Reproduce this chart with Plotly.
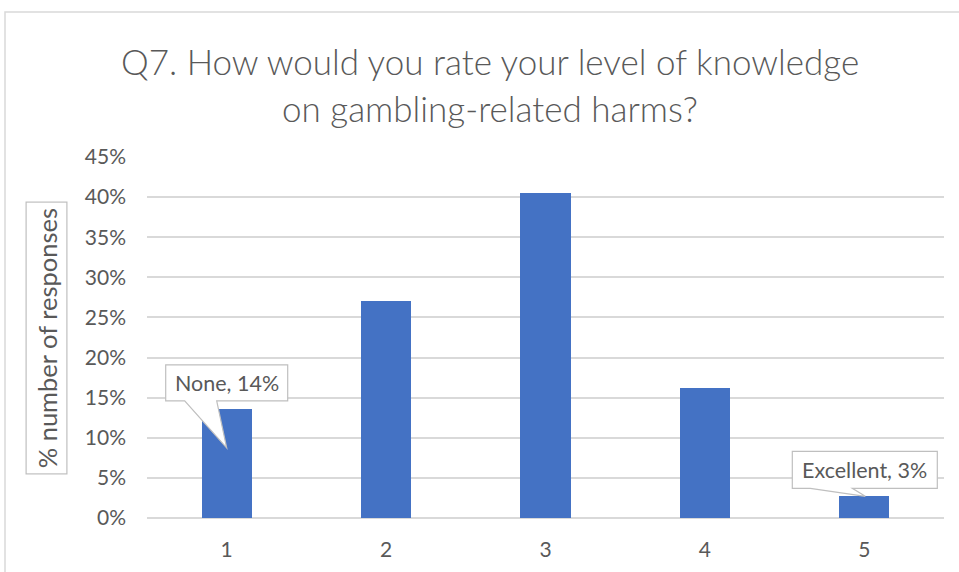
import plotly.graph_objects as go

# Survey answers: knowledge rating scale and share of responses (%)
ratings = [1, 2, 3, 4, 5]
rating_labels = ["1", "2", "3", "4", "5"]
share_pct = [13.6, 27.0, 40.5, 16.2, 2.7]
y_ticks = [0, 5, 10, 15, 20, 25, 30, 35, 40, 45]
y_tick_labels = [f"{v}%" for v in y_ticks]
callout_names = {1: "None", 5: "Excellent"}
title_lines = ["Q7. How would you rate your level of knowledge",
               "on gambling-related harms?"]

FONT = "Lato"
GREY_TEXT = "#595959"
GRID = "#d9d9d9"
BAR = "#4472c4"
CALLOUT_LINE = "#bfbfbf"

W, H = 959, 572
ML, MR, MT, MB = 147, 15, 157, 54
PW, PH = W - ML - MR, H - MT - MB

def px_to_paper_x(px):
    return (px - ML) / PW

def px_to_paper_y(py):
    return (H - MB - py) / PH

fig = go.Figure()
fig.add_trace(go.Bar(
    x=ratings, y=share_pct, width=0.314,
    marker=dict(color=BAR, line=dict(width=0)),
    hoverinfo="skip",
))

shapes = []
annotations = []

# Outer chart-area frame
shapes.append(dict(
    type="rect", xref="paper", yref="paper",
    x0=px_to_paper_x(5), x1=px_to_paper_x(W + 20),
    y0=px_to_paper_y(H + 20), y1=px_to_paper_y(12),
    line=dict(color=GRID, width=1.5), fillcolor="rgba(0,0,0,0)", layer="below",
))

# Callout geometry in pixels relative to the top of each bar:
# (box left, box right, box top, box bottom, pointer base left, pointer base right, tip x, tip y)
callout_geom = {
    1: (-61, 61, 44, 8, -42, -10, 0, -39),
    5: (-72, 73, 45, 8, -54, -12, 1, 0),
}
for r, name in callout_names.items():
    v = share_pct[ratings.index(r)]
    bl, br, bt, bb, pl, pr, tx, ty = callout_geom[r]
    path = (f"M{bl},{bt} L{br},{bt} L{br},{bb} L{pr},{bb} L{tx},{ty} "
            f"L{pl},{bb} L{bl},{bb} Z")
    shapes.append(dict(
        type="path", xref="x", yref="y",
        xsizemode="pixel", ysizemode="pixel",
        xanchor=r, yanchor=v, path=path,
        fillcolor="white", line=dict(color=CALLOUT_LINE, width=1.2),
        layer="above",
    ))
    annotations.append(dict(
        x=r, y=v, xref="x", yref="y",
        xshift=(bl + br) / 2, yshift=(bt + bb) / 2,
        text=f"{name}, {round(v):.0f}%", showarrow=False,
        font=dict(family=FONT, size=21.5, color=GREY_TEXT),
        xanchor="center", yanchor="middle",
    ))

# Y axis title in a bordered box
annotations.append(dict(
    x=px_to_paper_x(46), y=px_to_paper_y(338.5), xref="paper", yref="paper",
    text="% number of responses", textangle=-90, showarrow=False,
    font=dict(family=FONT, size=25.5, color=GREY_TEXT),
    bordercolor=CALLOUT_LINE, borderwidth=1.2, borderpad=5,
    xanchor="center", yanchor="middle",
))

# Two-line chart title
for line, cy in zip(title_lines, [61, 108]):
    annotations.append(dict(
        x=px_to_paper_x(490), y=px_to_paper_y(cy), xref="paper", yref="paper",
        text=line, showarrow=False,
        font=dict(family=FONT, size=35, color=GREY_TEXT, weight=300),
        xanchor="center", yanchor="middle",
    ))

fig.update_layout(
    width=W, height=H,
    margin=dict(l=ML, r=MR, t=MT, b=MB),
    paper_bgcolor="white", plot_bgcolor="white",
    showlegend=False,
    xaxis=dict(
        range=[0.5, 5.5], tickvals=ratings, ticktext=rating_labels,
        showgrid=False, zeroline=False, showline=False, ticks="",
        tickfont=dict(family=FONT, size=21, color=GREY_TEXT),
        ticklabelstandoff=17,
    ),
    yaxis=dict(
        range=[0, 45], tickvals=y_ticks, ticktext=y_tick_labels,
        showgrid=True, gridcolor=GRID, gridwidth=1.5,
        zeroline=True, zerolinecolor=GRID, zerolinewidth=1.5,
        showline=False, ticks="",
        tickfont=dict(family=FONT, size=21, color=GREY_TEXT),
        ticklabelstandoff=20,
    ),
    shapes=shapes,
    annotations=annotations,
    bargap=0,
)

fig.write_html("out.html")
